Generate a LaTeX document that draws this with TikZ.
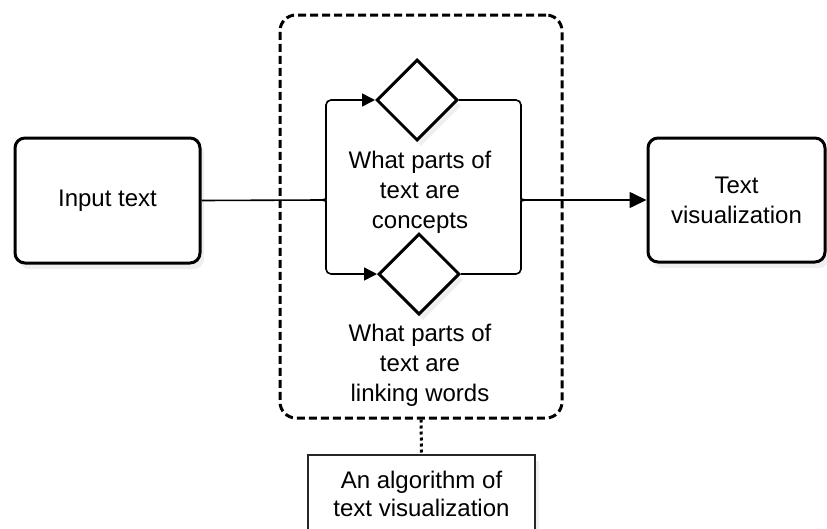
\documentclass[tikz,border=0pt]{standalone}
\usepackage{fontspec}
\setmainfont{Liberation Sans}
\usetikzlibrary{shapes.geometric,arrows.meta,shadows}
\begin{document}
\begin{tikzpicture}[x=1pt,y=-1pt,
  shad/.style={drop shadow={opacity=0.13,shadow xshift=4pt,shadow yshift=-6pt}},
  box/.style={draw=black,line width=3pt,rounded corners=10pt,fill=white,shad,align=center,font=\fontsize{24}{30}\selectfont},
  gate/.style={diamond,draw=black,line width=3pt,fill=white,minimum width=81pt,minimum height=81pt,inner sep=0pt,shad},
  lbl/.style={align=center,font=\fontsize{24}{30}\selectfont},
  conn/.style={line width=1.6pt},
  arr/.style={conn,-{Triangle[length=13pt,width=13pt]}},
  bigarr/.style={conn,-{Triangle[length=17pt,width=16pt]}},
  group/.style={draw=black,line width=3pt,dash pattern=on 8pt off 4pt,rounded corners=16pt}]
\useasboundingbox (0,0) rectangle (827,528);
\clip (0,0) rectangle (827,528);
% group container
\node[group,minimum width=282pt,minimum height=403pt] (grp) at (421,216.5) {};
% boxes
\node[box,minimum width=185pt,minimum height=125pt] (in) at (107.5,200.5) {Input text};
\node[box,minimum width=177pt,minimum height=124pt] (out) at (736.5,200) {Text\\visualization};
% gateways
\node[gate] (d1) at (417,100) {};
\node[gate] (d2) at (419,274) {};
% labels
\node[lbl] (t1) at (420,192) {What parts of\\text are\\concepts};
\node[lbl] (t2) at (420,365) {What parts of\\text are\\linking words};
% brace junctions
\coordinate (bl) at (321,200);
\coordinate (br) at (526,200);
% connectors
\draw[conn] (in.east) -- (bl);
\draw[arr,rounded corners=5pt] (bl) .. controls (325,200) and (326,198) .. (326,194) -- (326,100) -- (d1.west);
\draw[arr,rounded corners=5pt] (bl) .. controls (325,200) and (326,202) .. (326,206) -- (326,274) -- (d2.west);
\draw[conn,rounded corners=5pt] (d1.east) -- (521,100) -- (521,194) .. controls (521,198) and (522,200) .. (br);
\draw[conn,rounded corners=5pt] (d2.east) -- (521,274) -- (521,206) .. controls (521,202) and (522,200) .. (br);
\draw[bigarr] (br) -- (out.west);
% annotation
\node[draw=black!85,line width=1.6pt,fill=white,shad,minimum width=227pt,minimum height=78pt,align=center,font=\fontsize{24}{28}\selectfont] (alg) at (421.5,494) {An algorithm of\\text visualization};
\draw[line width=3pt,dash pattern=on 3pt off 3pt] (grp.south) -- (alg.north);
\end{tikzpicture}
\end{document}
